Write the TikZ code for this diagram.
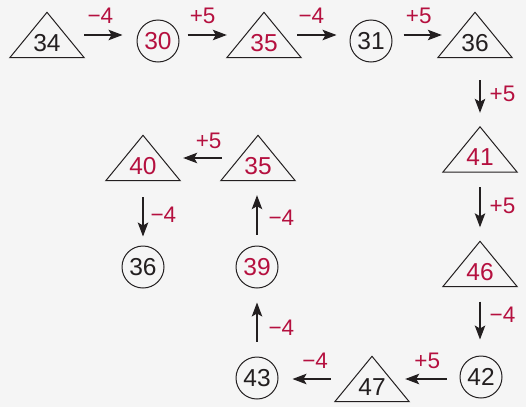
\documentclass[tikz,border=0pt]{standalone}
\usepackage{fontspec}
\setmainfont{Liberation Sans}
\usetikzlibrary{arrows.meta}
\definecolor{numred}{RGB}{181,16,63}
\definecolor{ink}{RGB}{35,31,32}
\definecolor{paper}{RGB}{245,245,245}
\tikzset{
  num/.style={font=\fontsize{24.5pt}{28pt}\selectfont, text=ink, inner sep=0pt},
  tri/.style={num, minimum width=74pt, text height=38.6pt, text depth=6.4pt},
  circ/.style={num, circle, draw=ink, line width=1pt, minimum size=42pt},
  hl/.style={text=numred},
  lab/.style={font=\fontsize{22.5pt}{26pt}\selectfont, text=numred, inner sep=0pt},
  arr/.style={draw=ink, line width=1.2pt, -{Stealth[length=14pt,width=10.5pt,inset=3pt]}}
}

\begin{document}
\begin{tikzpicture}[x=1pt,y=-1pt]
    \fill[paper] (0,0) rectangle (526,407);

    \node[tri] (1) at (47,35) {34};
    \node[circ,hl] (2) at (158,41) {30};
    \node[tri,hl] (3) at (264,35) {35};
    \node[circ] (4) at (371,41) {31};
    \node[tri] (5) at (475,35) {36};
    \node[tri,hl] (6) at (480,149.5) {41};
    \node[tri,hl] (7) at (480,264) {46};
    \node[circ] (8) at (481,377) {42};
    \node[tri] (9) at (372,379) {47};
    \node[circ] (10) at (257,378) {43};
    \node[circ,hl] (11) at (257,267) {39};
    \node[tri,hl] (12) at (258,158) {35};
    \node[tri,hl] (13) at (143,158) {40};
    \node[circ] (14) at (143,267) {36};

    \foreach \n in {1,3,5,6,7,9,12,13}
      \draw[ink,line width=1pt] (\n.south west) -- (\n.north) -- (\n.south east) -- cycle;

    \path[every edge/.style={arr}, every node/.style={lab}]
    (1.east) edge [shorten >=14pt] node [pos=0.31,above=11pt] {−4} (2.west |- 1.east)
    (2.east |- 3.west) edge [shorten <=8pt] node [pos=0.49,above=11pt] {+5} (3.west)
    (3.east) edge [shorten <=-4pt,shorten >=13pt] node [pos=0.21,above=11pt] {−4} (4.west |- 3.east)
    (4.east |- 5.west) edge [shorten <=11pt,shorten >=-4pt] node [pos=0.58,above=11pt] {+5} (5.west)
    (6.north |- 5.south) edge [shorten <=22.5pt,shorten >=14pt] node [pos=0.53,right=9pt] {+5} (6.north)
    (6.south) edge [shorten <=15pt,shorten >=14pt] node [pos=0.49,right=9pt] {+5} (7.north)
    (7.south) edge [shorten <=15pt,shorten >=16pt] node [pos=0.41,right=9pt] {−4} (7.south |- 8.north)
    (8.west |- 9.east) edge [shorten <=13pt,shorten >=-4pt] node [pos=0.64,above=10pt] {+5} (9.east)
    (9.west) edge [shorten <=4pt,shorten >=14pt] node [pos=0.35,above=10pt] {−4} (10.east |- 9.west)
    (10.north) edge [shorten <=15pt,shorten >=14pt] node [pos=0.43,right=11pt] {−4} (11.south)
    (11.north) edge [shorten <=11pt,shorten >=14.5pt] node [pos=0.43,right=11pt] {−4} (11.north |- 12.south)
    (12.west) edge [shorten <=-1pt,shorten >=3pt] node [pos=0.30,above=9pt] {+5} (13.east)
    (13.south) edge [shorten <=16.5pt,shorten >=9pt] node [pos=0.53,right=7pt] {−4} (14.north);

  \end{tikzpicture}
\end{document}
